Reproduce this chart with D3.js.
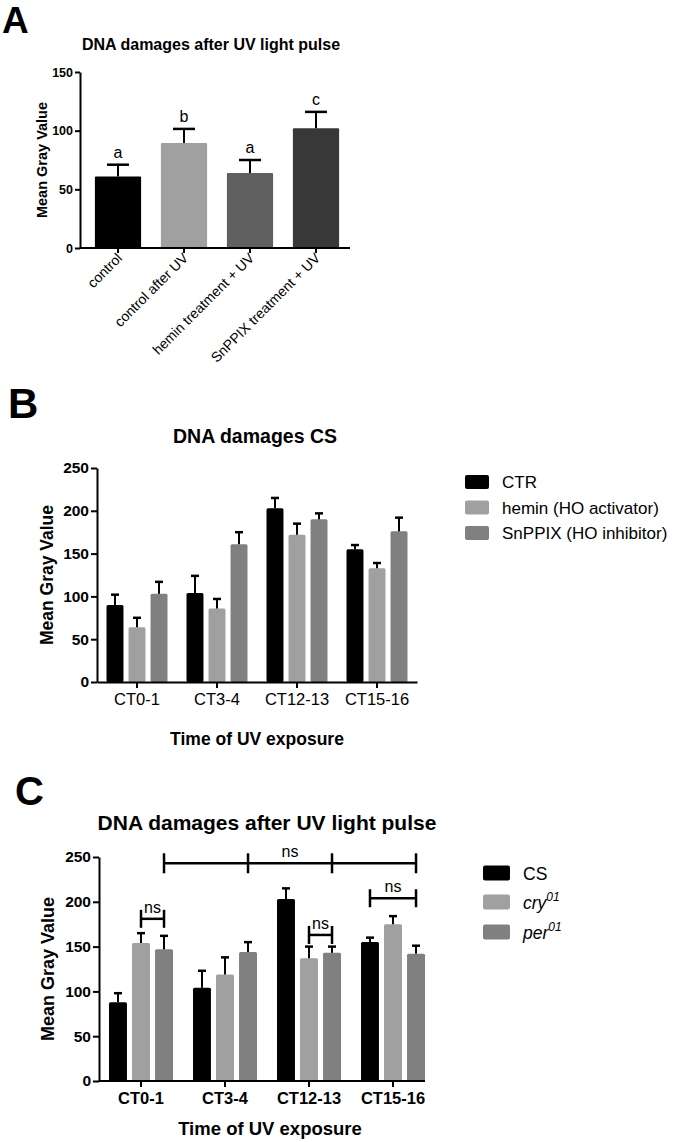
<!DOCTYPE html>
<html><head><meta charset="utf-8">
<script src="https://cdn.jsdelivr.net/npm/d3@7"></script>
<style>
body{margin:0;background:#fff;}
svg{display:block;font-family:"Liberation Sans",Arial,sans-serif;}
</style></head>
<body><svg id="c" width="675" height="1142"></svg>
<script>
// ---------- Panel A data ----------
const catsA = ["control","control after UV","hemin treatment + UV","SnPPIX treatment + UV"];
const valsA = [61, 89.5, 64, 102];
const errA  = [10, 12, 11, 14];
const lettersA = ["a","b","a","c"];
const colorsA = ["#000000","#a0a0a0","#606060","#383838"];
const ticksA = [0,50,100,150];

// ---------- Panel B data ----------
const groupsB = ["CT0-1","CT3-4","CT12-13","CT15-16"];
const seriesB = ["CTR","hemin (HO activator)","SnPPIX (HO inhibitor)"];
const ctrB    = [90, 104, 203, 155];
const heminB  = [64, 86, 172, 133];
const snppixB = [103, 161, 190, 176];
const ctrErrB    = [12, 20, 12, 5];
const heminErrB  = [11, 11, 13, 6];
const snppixErrB = [14, 14, 7, 16];
const colorsB = ["#000000","#a0a0a0","#808080"];
const ticksB = [0,50,100,150,200,250];

// ---------- Panel C data ----------
const groupsC = ["CT0-1","CT3-4","CT12-13","CT15-16"];
const seriesC = ["CS","cry","per"];
const csC  = [88, 104, 203, 155];
const cryC = [154, 119, 137, 175];
const perC = [147, 144, 143, 142];
const csErrC  = [10, 19, 12, 5];
const cryErrC = [11, 19, 13, 9];
const perErrC = [15, 11, 7, 9];
const colorsC = ["#000000","#a0a0a0","#808080"];
const ticksC = [0,50,100,150,200,250];
// significance brackets: [group, series] endpoints, level, label
const bracketTop = {points:[["CT0-1","per"],["CT3-4","per"],["CT12-13","per"],["CT15-16","per"]], level:243, label:"ns"};
const bracketsC = [
  {from:["CT0-1","cry"], to:["CT0-1","per"], level:181, label:"ns"},
  {from:["CT12-13","cry"], to:["CT12-13","per"], level:163, label:"ns"},
  {from:["CT15-16","CS"], to:["CT15-16","per"], level:204, label:"ns"}
];

const svg = d3.select("#c");
const FONT = '"Liberation Sans",Arial,sans-serif';

function panelLetter(t,x,y,size){
  svg.append("text").attr("x",x).attr("y",y).attr("font-size",size).attr("font-weight","bold").text(t);
}
function styleAxis(g, fs, bold){
  g.selectAll(".domain").attr("stroke","#000").attr("stroke-width",2);
  g.selectAll(".tick line").attr("stroke","#000").attr("stroke-width",2);
  g.selectAll(".tick text").attr("font-size",fs).attr("font-family",FONT)
    .attr("font-weight",bold?"bold":"normal").attr("fill","#000");
}
function errBar(g,cx,yTop,yErr,capW){
  g.append("line").attr("x1",cx).attr("x2",cx).attr("y1",yTop).attr("y2",yErr).attr("stroke","#000").attr("stroke-width",2);
  g.append("line").attr("x1",cx-capW/2).attr("x2",cx+capW/2).attr("y1",yErr).attr("y2",yErr).attr("stroke","#000").attr("stroke-width",2.5);
}

// ================= Panel A =================
panelLetter("A",2,33,37);
{
  const y = d3.scaleLinear().domain([0,150]).range([248,72]);
  const x = d3.scaleBand().domain(catsA).range([85,349]).paddingInner(0.3).paddingOuter(0.15);
  const g = svg.append("g");
  g.append("text").attr("x",211).attr("y",50).attr("text-anchor","middle")
    .attr("font-size",16).attr("font-weight","bold").text("DNA damages after UV light pulse");
  catsA.forEach((c,i)=>{
    g.append("rect").attr("x",x(c)).attr("y",y(valsA[i])).attr("width",x.bandwidth())
      .attr("height",y(0)-y(valsA[i])).attr("fill",colorsA[i]).attr("rx",1);
    const cx = x(c)+x.bandwidth()/2;
    errBar(g,cx,y(valsA[i]),y(valsA[i]+errA[i]),22);
    g.append("text").attr("x",cx).attr("y",y(valsA[i]+errA[i])-7).attr("text-anchor","middle")
      .attr("font-size",16).text(lettersA[i]);
  });
  const ya = g.append("g").attr("transform","translate(80,0)")
    .call(d3.axisLeft(y).tickValues(ticksA).tickSize(5).tickSizeOuter(0).tickPadding(2));
  styleAxis(ya,12.5,true);
  const xa = g.append("g").attr("transform","translate(0,248)")
    .call(d3.axisBottom(x).tickSize(5).tickSizeOuter(0));
  xa.select(".domain").attr("d","M80,0H350");
  styleAxis(xa,14,false);
  xa.selectAll(".tick text").attr("text-anchor","end").attr("dy",0).attr("y",0)
    .attr("transform","translate(5,11) rotate(-45)");
  g.append("text").attr("transform","translate(47,160) rotate(-90)").attr("text-anchor","middle")
    .attr("font-size",14.5).attr("font-weight","bold").text("Mean Gray Value");
}

// ================= Panel B =================
panelLetter("B",8,418,42);
{
  const y = d3.scaleLinear().domain([0,250]).range([682,468]);
  const x0 = d3.scaleBand().domain(groupsB).range([97,417]);
  const bw = x0.bandwidth();
  const x1 = d3.scaleBand().domain(seriesB).range([(bw-61)/2,(bw+61)/2]).paddingInner(0.23);
  const g = svg.append("g");
  g.append("text").attr("x",255).attr("y",443).attr("text-anchor","middle")
    .attr("font-size",19.5).attr("font-weight","bold").text("DNA damages CS");
  const vals = [ctrB,heminB,snppixB], errs=[ctrErrB,heminErrB,snppixErrB];
  seriesB.forEach((s,si)=>{
    groupsB.forEach((gr,gi)=>{
      const v = vals[si][gi];
      const bx = x0(gr)+x1(s);
      g.append("rect").attr("x",bx).attr("y",y(v)).attr("width",x1.bandwidth())
        .attr("height",y(0)-y(v)).attr("fill",colorsB[si]).attr("rx",1.5);
      errBar(g,bx+x1.bandwidth()/2,y(v),y(v+errs[si][gi]),8);
    });
  });
  const ya = g.append("g").attr("transform","translate(97,0)")
    .call(d3.axisLeft(y).tickValues(ticksB).tickSize(6).tickSizeOuter(0).tickPadding(2));
  styleAxis(ya,15.5,true);
  const xa = g.append("g").attr("transform","translate(0,682)")
    .call(d3.axisBottom(x0).tickSize(6).tickSizeOuter(0).tickPadding(5));
  styleAxis(xa,16.5,false);
  g.append("text").attr("transform","translate(53,575) rotate(-90)").attr("text-anchor","middle")
    .attr("font-size",17.5).attr("font-weight","bold").text("Mean Gray Value");
  g.append("text").attr("x",257).attr("y",745).attr("text-anchor","middle")
    .attr("font-size",17.5).attr("font-weight","bold").text("Time of UV exposure");
  seriesB.forEach((s,i)=>{
    const ly = 482 + i*25.5;
    g.append("rect").attr("x",465).attr("y",ly-7).attr("width",24).attr("height",14).attr("rx",2).attr("fill",colorsB[i]);
    g.append("text").attr("x",502).attr("y",ly+6).attr("font-size",17).text(s);
  });
}

// ================= Panel C =================
panelLetter("C",15,805,40);
{
  const y = d3.scaleLinear().domain([0,250]).range([1081,857]);
  const x0 = d3.scaleBand().domain(groupsC).range([99,435]);
  const bw = x0.bandwidth();
  const x1 = d3.scaleBand().domain(seriesC).range([(bw-64)/2,(bw+64)/2]).paddingInner(0.22);
  const cx = (gr,s)=>x0(gr)+x1(s)+x1.bandwidth()/2;
  const g = svg.append("g");
  g.append("text").attr("x",267).attr("y",830).attr("text-anchor","middle")
    .attr("font-size",21).attr("font-weight","bold").text("DNA damages after UV light pulse");
  const vals = [csC,cryC,perC], errs=[csErrC,cryErrC,perErrC];
  seriesC.forEach((s,si)=>{
    groupsC.forEach((gr,gi)=>{
      const v = vals[si][gi];
      const bx = x0(gr)+x1(s);
      g.append("rect").attr("x",bx).attr("y",y(v)).attr("width",x1.bandwidth())
        .attr("height",y(0)-y(v)).attr("fill",colorsC[si]).attr("rx",1.5);
      errBar(g,bx+x1.bandwidth()/2,y(v),y(v+errs[si][gi]),8);
    });
  });
  const ya = g.append("g").attr("transform","translate(99,0)")
    .call(d3.axisLeft(y).tickValues(ticksC).tickSize(6).tickSizeOuter(0).tickPadding(2));
  styleAxis(ya,15.5,true);
  const xa = g.append("g").attr("transform","translate(0,1081)")
    .call(d3.axisBottom(x0).tickSize(6).tickSizeOuter(0).tickPadding(5));
  xa.select(".domain").attr("d","M99,0H425");
  styleAxis(xa,16.5,true);
  g.append("text").attr("transform","translate(54,969) rotate(-90)").attr("text-anchor","middle")
    .attr("font-size",18).attr("font-weight","bold").text("Mean Gray Value");
  g.append("text").attr("x",270).attr("y",1135).attr("text-anchor","middle")
    .attr("font-size",18.5).attr("font-weight","bold").text("Time of UV exposure");

  // brackets
  function bracket(xs,lvl,label,capH,labelX){
    const yy = y(lvl);
    g.append("line").attr("x1",xs[0]).attr("x2",xs[xs.length-1]).attr("y1",yy).attr("y2",yy)
      .attr("stroke","#000").attr("stroke-width",2.5);
    xs.forEach(xx=>g.append("line").attr("x1",xx).attr("x2",xx).attr("y1",yy-capH/2).attr("y2",yy+capH/2)
      .attr("stroke","#000").attr("stroke-width",2.5));
    g.append("text").attr("x",labelX).attr("y",yy-6).attr("text-anchor","middle").attr("font-size",16).text(label);
  }
  const tp = bracketTop.points.map(p=>cx(p[0],p[1]));
  bracket(tp,bracketTop.level,bracketTop.label,20,(tp[1]+tp[2])/2);
  bracketsC.forEach(b=>{
    const a = cx(b.from[0],b.from[1]), c2 = cx(b.to[0],b.to[1]);
    bracket([a,c2],b.level,b.label,18,(a+c2)/2);
  });

  // legend
  seriesC.forEach((s,i)=>{
    const ly = [873,902,932][i];
    g.append("rect").attr("x",483).attr("y",ly-7.5).attr("width",27).attr("height",15).attr("rx",2).attr("fill",colorsC[i]);
    const t = g.append("text").attr("x",523).attr("y",ly+6.5).attr("font-size",17.5);
    if(i===0){ t.text(s); }
    else {
      t.append("tspan").attr("font-style","italic").text(s);
      t.append("tspan").attr("font-style","italic").attr("font-size",12).attr("dy",-8).text("01");
    }
  });
}
</script>
</body></html>
